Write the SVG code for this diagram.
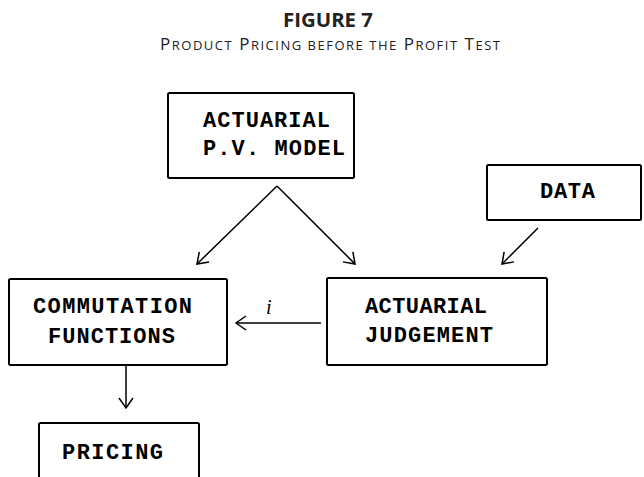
<svg xmlns="http://www.w3.org/2000/svg" width="644" height="477" viewBox="0 0 644 477">
<style>
.box{fill:#fff;stroke:#000;stroke-width:2}
.t{font-family:"Liberation Mono","DejaVu Sans Mono",monospace;font-weight:bold;font-size:22px;fill:#000}
.ttl{font-family:"Open Sans","Liberation Sans",sans-serif;fill:#222}
.c{stroke:#000;stroke-width:1.5;fill:none}
</style>
<defs>
<marker id="ah" markerUnits="userSpaceOnUse" markerWidth="24" markerHeight="24" viewBox="-12 -12 24 24" refX="0" refY="0" orient="auto">
<path d="M-10,-7 L0,0 L-10,7" fill="none" stroke="#000" stroke-width="1.5"/>
</marker>
</defs>
<rect width="644" height="477" fill="#fff"/>
<text class="ttl" x="283" y="27" font-size="20" font-weight="bold" textLength="90" lengthAdjust="spacingAndGlyphs">FIGURE 7</text>
<text class="ttl" x="160" y="50" font-size="17" textLength="340" lengthAdjust="spacing">P<tspan font-size="13">RODUCT</tspan> P<tspan font-size="13">RICING BEFORE THE</tspan> P<tspan font-size="13">ROFIT</tspan> T<tspan font-size="13">EST</tspan></text>
<g id="connectors">
<line class="c" x1="277" y1="186" x2="197" y2="264" marker-end="url(#ah)"/>
<line class="c" x1="277" y1="186" x2="355" y2="264" marker-end="url(#ah)"/>
<line class="c" x1="538" y1="228" x2="502" y2="264" marker-end="url(#ah)"/>
<line class="c" x1="321" y1="323" x2="236" y2="323" marker-end="url(#ah)"/>
<line class="c" x1="126" y1="366" x2="126" y2="408" marker-end="url(#ah)"/>
<text x="266" y="314" font-family="'Liberation Serif',serif" font-style="italic" font-size="20">i</text>
</g>
<g id="pv-model">
<rect class="box" x="168" y="93" width="186" height="85" rx="1.5"/>
<text class="t" x="203" y="127" textLength="127">ACTUARIAL</text>
<text class="t" x="203" y="155" textLength="142">P.V. MODEL</text>
</g>
<g id="data">
<rect class="box" x="487" y="165" width="154" height="55" rx="1.5"/>
<text class="t" x="540" y="198" textLength="55">DATA</text>
</g>
<g id="commutation">
<rect class="box" x="9" y="279" width="218" height="86" rx="1.5"/>
<text class="t" x="33" y="313" textLength="159">COMMUTATION</text>
<text class="t" x="48" y="343" textLength="127">FUNCTIONS</text>
</g>
<g id="judgement">
<rect class="box" x="327" y="278" width="220" height="87" rx="1.5"/>
<text class="t" x="365" y="313" textLength="122">ACTUARIAL</text>
<text class="t" x="365" y="342" textLength="128">JUDGEMENT</text>
</g>
<g id="pricing">
<rect class="box" x="39" y="423" width="160" height="70" rx="1.5"/>
<text class="t" x="62" y="459" textLength="101">PRICING</text>
</g>
</svg>
